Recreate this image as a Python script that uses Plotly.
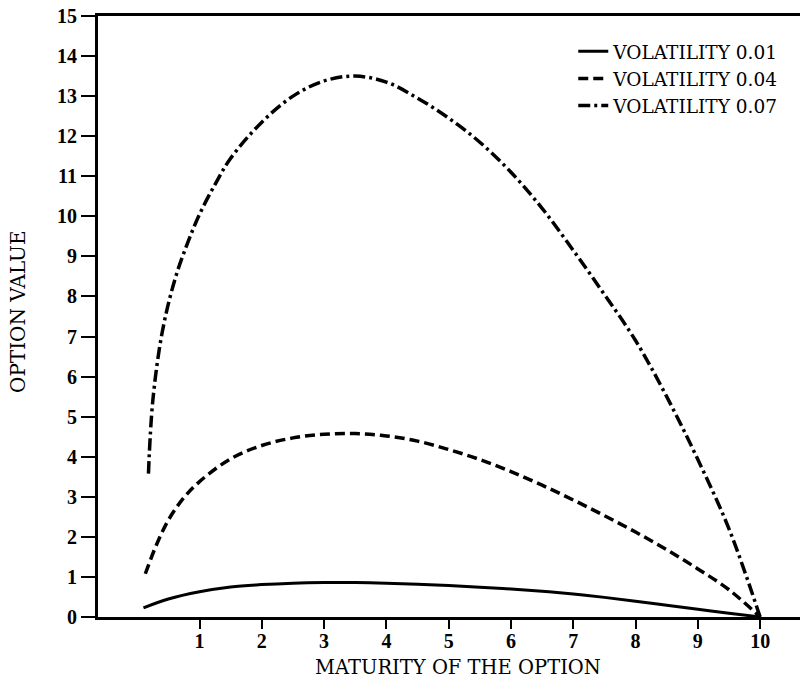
import plotly.graph_objects as go

# ---- data ----
series_names = ["VOLATILITY 0.01", "VOLATILITY 0.04", "VOLATILITY 0.07"]

mat_v01 = [0.1, 0.5, 1.0, 1.5, 2.0, 2.5, 3.0, 3.5, 4.0, 4.5, 5.0, 5.5, 6.0, 6.5,
           7.0, 7.5, 8.0, 8.5, 9.0, 9.5, 10.0]
val_v01 = [0.23, 0.45, 0.63, 0.75, 0.81, 0.845, 0.86, 0.86, 0.845, 0.82, 0.785, 0.745, 0.70, 0.645,
           0.575, 0.49, 0.395, 0.295, 0.195, 0.095, 0.0]

mat_v04 = [0.13, 0.3, 0.5, 0.75, 1.0, 1.5, 2.0, 2.5, 3.0, 3.5, 4.0, 4.5, 5.0, 5.5, 6.0,
           6.5, 7.0, 7.5, 8.0, 8.5, 9.0, 9.5, 10.0]
val_v04 = [1.08, 1.77, 2.42, 2.98, 3.38, 3.95, 4.28, 4.47, 4.56, 4.58, 4.52, 4.39, 4.18, 3.93, 3.63,
           3.29, 2.92, 2.53, 2.12, 1.68, 1.20, 0.68, 0.0]

mat_v07 = [0.18, 0.25, 0.4, 0.6, 0.8, 1.0, 1.25, 1.5, 2.0, 2.5, 3.0, 3.5, 4.0, 4.5, 5.0,
           5.5, 6.0, 6.5, 7.0, 7.5, 8.0, 8.5, 9.0, 9.5, 10.0]
val_v07 = [3.58, 5.4, 7.1, 8.4, 9.3, 10.05, 10.8, 11.45, 12.35, 13.0, 13.38, 13.5, 13.35, 12.95, 12.45,
           11.85, 11.1, 10.2, 9.15, 8.05, 6.9, 5.5, 3.93, 2.2, 0.0]

x_ticks = [1, 2, 3, 4, 5, 6, 7, 8, 9, 10]
y_ticks = list(range(0, 16))

x_title = "MATURITY OF THE OPTION"
y_title = "OPTION VALUE"

TEXT_FONT = "DejaVu Serif"
TICK_FONT = "Liberation Serif"

fig = go.Figure()
styles = [
    dict(dash="solid", width=3),
    dict(dash="10px,5px", width=3.5),
    dict(dash="12px,4px,3px,4px", width=3.5),
]
for name, xs, ys, st in zip(series_names,
                            [mat_v01, mat_v04, mat_v07],
                            [val_v01, val_v04, val_v07],
                            styles):
    fig.add_trace(go.Scatter(
        x=xs, y=ys, mode="lines", name=name,
        line=dict(color="black", width=st["width"], dash=st["dash"],
                  shape="spline", smoothing=1.0),
    ))

fig.update_layout(
    width=800, height=680,
    margin=dict(l=98, r=0, t=16, b=63),
    paper_bgcolor="white", plot_bgcolor="white",
    font=dict(family=TEXT_FONT, color="black", size=18),
    showlegend=True,
    legend=dict(
        x=0.677, y=0.972, xanchor="left", yanchor="top",
        bgcolor="rgba(0,0,0,0)", borderwidth=0,
        font=dict(family=TEXT_FONT, size=18.5, color="black"),
        tracegroupgap=0,
    ),
    xaxis=dict(
        range=[-0.63, 10.64],
        tickmode="array", tickvals=x_ticks, ticktext=[str(v) for v in x_ticks],
        ticks="outside", ticklen=9, tickwidth=2, tickcolor="black",
        ticklabelstandoff=-5,
        showline=True, linecolor="black", linewidth=2.5, mirror=True,
        showgrid=False, zeroline=False,
        tickfont=dict(family=TICK_FONT, size=20, color="black", weight="bold"),
    ),
    yaxis=dict(
        range=[0, 15],
        tickmode="array", tickvals=y_ticks, ticktext=[str(v) for v in y_ticks],
        ticks="outside", ticklen=14, tickwidth=2, tickcolor="black",
        showline=True, linecolor="black", linewidth=3,
        showgrid=False, zeroline=False,
        tickfont=dict(family=TICK_FONT, size=20, color="black", weight="bold"),
    ),
    annotations=[
        dict(text=x_title, xref="paper", yref="paper",
             x=(458 - 98) / 702, y=-(667 - 617) / 601,
             xanchor="center", yanchor="middle", showarrow=False,
             font=dict(family=TEXT_FONT, size=19.5, color="black")),
        dict(text=y_title, xref="paper", yref="paper",
             x=-(98 - 18) / 702, y=1 - (312 - 16) / 601,
             xanchor="center", yanchor="middle", showarrow=False, textangle=-90,
             font=dict(family=TEXT_FONT, size=20, color="black")),
    ],
)

fig.write_html("out.html")
